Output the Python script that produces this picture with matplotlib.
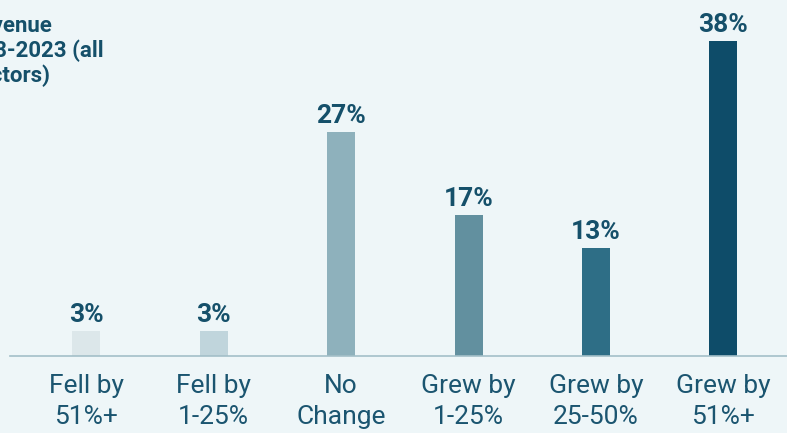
import matplotlib
matplotlib.use("Agg")
import matplotlib.pyplot as plt
import numpy as np

# Revenue change buckets and share of respondents (%)
categories = ["Fell by\n51%+", "Fell by\n1-25%", "No\nChange",
              "Grew by\n1-25%", "Grew by\n25-50%", "Grew by\n51%+"]
shares = [3, 3, 27, 17, 13, 38]
bar_colors = ["#dce7ea", "#c0d5dc", "#8eb1bc", "#62909f", "#2e6e86", "#0e4c69"]
title_lines = ["Change in revenue", "2018-2023 (all", "sectors)"]

BG = "#eef6f8"
TEXT = "#1b5570"
W, H = 787, 433

plt.rcParams['font.family'] = ['Roboto', 'DejaVu Sans']

fig = plt.figure(figsize=(W / 100, H / 100), dpi=100, facecolor=BG)
ax = fig.add_axes([10 / W, 77 / H, 777 / W, 331.6 / H])
ax.set_facecolor(BG)

x = np.arange(len(categories))
bars = ax.bar(x, shares, width=0.22, color=bar_colors, zorder=2)

# value labels above bars
for xi, v in zip(x, shares):
    ax.annotate(f"{v}%", xy=(xi, v), xytext=(0, 6.5), textcoords="offset points",
                ha="center", va="baseline", fontsize=19, fontweight="bold",
                color="#15506a")

ax.set_xlim(-0.6, 5.5)
ax.set_ylim(0, 40)
ax.set_xticks(x)
ax.set_xticklabels(categories, fontsize=19, color=TEXT, linespacing=1.35)
ax.tick_params(axis="x", length=0, pad=13)
ax.set_yticks([])

for side in ["top", "right", "left"]:
    ax.spines[side].set_visible(False)
ax.spines["bottom"].set_color("#a3bfc8")
ax.spines["bottom"].set_linewidth(1.2)

# title, cut off at the left edge as in the source
title_pos = [(52, 32), (104, 57), (50, 82)]
for line, (px, py) in zip(title_lines, title_pos):
    fig.text(px / W, 1 - py / H, line, ha="right", va="baseline",
             fontsize=16, fontweight="bold", color="#15506a")

fig.savefig("out.png", dpi=100, facecolor=BG)
